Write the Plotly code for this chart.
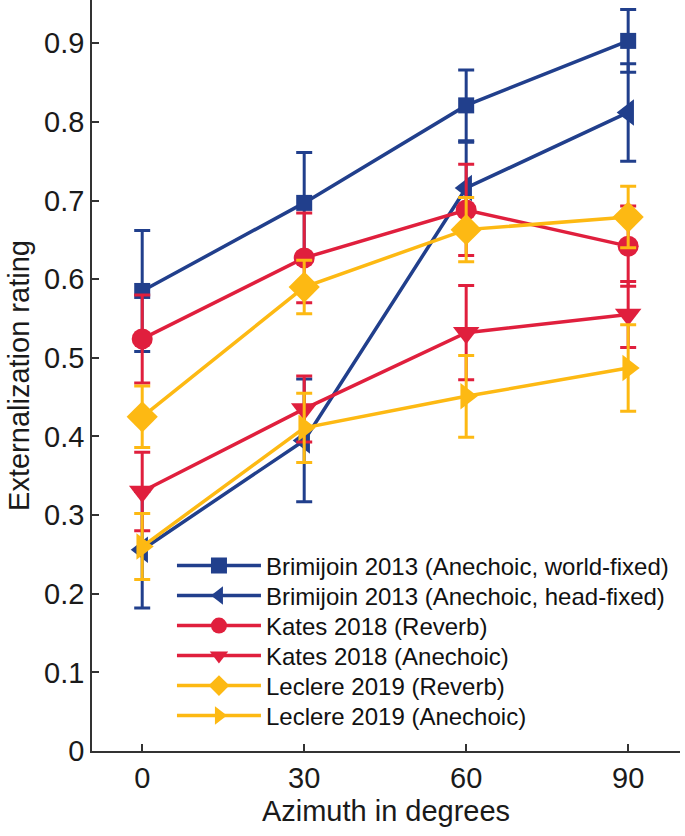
import plotly.graph_objects as go

azimuth = [0, 30, 60, 90]

names = [
    "Brimijoin 2013 (Anechoic, world-fixed)",
    "Brimijoin 2013 (Anechoic, head-fixed)",
    "Kates 2018 (Reverb)",
    "Kates 2018 (Anechoic)",
    "Leclere 2019 (Reverb)",
    "Leclere 2019 (Anechoic)",
]

brim_world = [0.585, 0.697, 0.821, 0.903]
brim_world_err = [0.077, 0.064, 0.045, 0.040]
brim_head = [0.256, 0.395, 0.716, 0.812]
brim_head_err = [0.074, 0.078, 0.058, 0.062]
kates_rev = [0.524, 0.627, 0.688, 0.642]
kates_rev_err = [0.056, 0.057, 0.058, 0.051]
kates_ane = [0.330, 0.435, 0.532, 0.555]
kates_ane_err = [0.050, 0.042, 0.060, 0.042]
leclere_rev = [0.425, 0.590, 0.663, 0.679]
leclere_rev_err = [0.039, 0.034, 0.041, 0.039]
leclere_ane = [0.260, 0.411, 0.451, 0.487]
leclere_ane_err = [0.042, 0.044, 0.052, 0.055]

y_ticks = [0, 0.1, 0.2, 0.3, 0.4, 0.5, 0.6, 0.7, 0.8, 0.9]
y_labels = ["0", "0.1", "0.2", "0.3", "0.4", "0.5", "0.6", "0.7", "0.8", "0.9"]

BLUE = "#213f8c"
RED = "#e01f3d"
YELLOW = "#fdb913"

series = [
    (brim_world, brim_world_err, BLUE, "square", 16),
    (brim_head, brim_head_err, BLUE, "triangle-left", 23),
    (kates_rev, kates_rev_err, RED, "circle", 21),
    (kates_ane, kates_ane_err, RED, "triangle-down", 23),
    (leclere_rev, leclere_rev_err, YELLOW, "diamond", 24),
    (leclere_ane, leclere_ane_err, YELLOW, "triangle-right", 23),
]

PLOT_H = 751
legend_rows_px = [566, 596, 626, 656, 686, 716]

fig = go.Figure()
legend_layout = {}
for i, (name, (vals, errs, col, sym, sz)) in enumerate(zip(names, series)):
    key = "legend" if i == 0 else f"legend{i + 1}"
    fig.add_trace(go.Scatter(
        x=azimuth, y=vals, name=name, mode="lines+markers",
        legend=key,
        line=dict(color=col, width=3.5),
        marker=dict(symbol=sym, size=sz, color=col, line=dict(width=0)),
        error_y=dict(type="data", array=errs, visible=True,
                     color=col, thickness=3, width=8),
    ))
    legend_layout[key] = dict(
        x=0.136, y=(PLOT_H - legend_rows_px[i]) / PLOT_H,
        xanchor="left", yanchor="middle",
        bgcolor="rgba(0,0,0,0)", font=dict(size=24, color="#111"),
        itemwidth=84,
    )

fig.update_layout(
    width=685, height=836,
    margin=dict(l=92, r=5, t=0, b=85),
    paper_bgcolor="white", plot_bgcolor="white",
    font=dict(family="Liberation Sans, Arial, sans-serif", color="#1a1a1a"),
    showlegend=True,
    xaxis=dict(range=[-9.3, 99.6], tickvals=azimuth, ticktext=["0", "30", "60", "90"],
               ticks="inside", ticklen=7, tickwidth=1.5, tickcolor="#333",
               showline=True, linecolor="#333", linewidth=1.5,
               showgrid=False, zeroline=False, tickfont=dict(size=29),
               title=dict(text="Azimuth in degrees", font=dict(size=29), standoff=8)),
    yaxis=dict(range=[0, 0.955], tickvals=y_ticks, ticktext=y_labels,
               ticks="inside", ticklen=7, tickwidth=1.5, tickcolor="#333",
               showline=True, linecolor="#333", linewidth=1.5,
               showgrid=False, zeroline=False, tickfont=dict(size=29),
               title=dict(text="Externalization rating", font=dict(size=29), standoff=6)),
    **legend_layout,
)

fig.write_html("out.html", config={"displayModeBar": False},
               post_script="document.body.style.margin='0';")
